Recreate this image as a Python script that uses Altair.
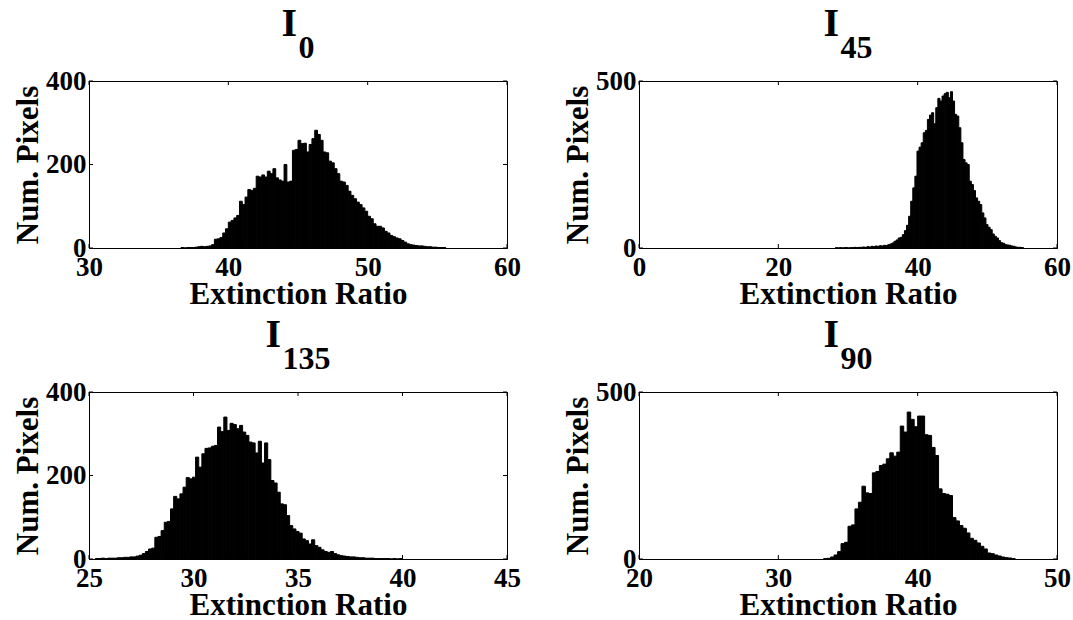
import altair as alt
import pandas as pd

# ---------------- data ----------------
sub_labels = ["0", "45", "135", "90"]
x_domains = [[30, 60], [0, 60], [25, 45], [20, 50]]
x_ticks = [[30, 40, 50, 60], [0, 20, 40, 60], [25, 30, 35, 40, 45], [20, 30, 40, 50]]
y_domains = [[0, 400], [0, 500], [0, 400], [0, 500]]
y_ticks = [[0, 200, 400], [0, 500], [0, 200, 400], [0, 500]]
bin_starts = [36.6, 28.2, 25.3, 33.25]
bin_widths = [0.2, 0.3, 0.15, 0.25]

counts_i0 = [1, 0, 1, 1, 1, 2, 3, 4, 3, 4, 5, 8, 21, 22, 25, 36, 46, 62, 66, 72,
             78, 112, 104, 122, 140, 138, 143, 172, 170, 175, 170, 184, 178, 190, 168, 163, 160, 200, 158, 160,
             234, 236, 258, 250, 251, 230, 248, 262, 282, 272, 258, 230, 228, 208, 204, 190, 178, 160, 158, 150,
             136, 126, 118, 110, 104, 96, 88, 76, 70, 58, 52, 52, 48, 40, 36, 30, 27, 24, 22, 18,
             14, 10, 8, 7, 6, 5, 5, 4, 3, 3, 2, 2, 1, 1, 1]

counts_i45 = [1, 0, 1, 0, 1, 1, 0, 1, 1, 2, 1, 2, 2, 3, 2, 4, 3, 5, 4, 6,
              5, 7, 6, 8, 7, 10, 12, 15, 20, 24, 30, 32, 40, 52, 68, 95, 140, 180, 215, 290,
              302, 315, 345, 352, 385, 398, 405, 372, 420, 448, 440, 455, 462, 466, 450, 468, 440, 400, 395, 360,
              315, 265, 255, 250, 200, 190, 172, 150, 140, 130, 105, 90, 70, 62, 55, 42, 35, 30, 22, 16,
              14, 10, 9, 8, 6, 5, 3, 2, 2, 1]

counts_i135 = [1, 1, 2, 1, 2, 2, 2, 3, 3, 4, 4, 5, 5, 7, 9, 13, 18, 24, 26, 52,
               54, 68, 88, 90, 120, 150, 144, 156, 172, 195, 192, 196, 244, 220, 252, 265, 266, 270, 272, 316,
               305, 340, 308, 325, 322, 312, 320, 304, 296, 280, 278, 254, 282, 230, 278, 238, 188, 182, 160, 132,
               130, 104, 80, 72, 66, 62, 48, 44, 36, 46, 32, 28, 22, 18, 16, 18, 13, 10, 8, 7,
               6, 5, 5, 4, 3, 3, 2, 2, 2, 1, 1, 1, 1, 1, 0, 1, 0, 1]

counts_i90 = [1, 2, 6, 12, 22, 46, 50, 98, 102, 150, 170, 218, 198, 196, 258, 262, 280, 284, 300, 318,
              308, 320, 398, 380, 440, 418, 396, 428, 428, 372, 370, 334, 310, 210, 196, 194, 190, 124, 114, 100,
              92, 78, 62, 56, 48, 38, 30, 18, 16, 12, 9, 6, 4, 3, 1]

all_counts = [counts_i0, counts_i45, counts_i135, counts_i90]

# ---------------- styling ----------------
W, H = 418, 167
FONT = "Liberation Serif"


def panel(idx):
    counts = all_counts[idx]
    start, width = bin_starts[idx], bin_widths[idx]
    lo = [start + i * width for i in range(len(counts))]
    df = pd.DataFrame({"lo": lo, "hi": [v + width for v in lo], "n": counts, "z": [0] * len(counts)})
    xs = alt.Scale(domain=x_domains[idx], nice=False, zero=False)
    ys = alt.Scale(domain=y_domains[idx], nice=False)

    x_axis = alt.Axis(
        values=x_ticks[idx], title="Extinction Ratio", grid=False, ticks=False,
        domainColor="black", domainWidth=1,
        labelFont=FONT, labelFontSize=27, labelFontWeight="bold", labelColor="black",
        labelPadding=6, labelFlush=False, labelOverlap=False, format="d",
        titleFont=FONT, titleFontSize=31, titleFontWeight="bold", titleColor="black",
        titleX=W / 2, titleY=55, titleBaseline="alphabetic", titleAlign="center",
    )
    y_axis = alt.Axis(
        values=y_ticks[idx], title="Num. Pixels", grid=False, ticks=False,
        domainColor="black", domainWidth=1,
        labelFont=FONT, labelFontSize=27, labelFontWeight="bold", labelColor="black",
        labelPadding=3, labelFlush=False, labelOverlap=False, format="d",
        titleFont=FONT, titleFontSize=31, titleFontWeight="bold", titleColor="black",
        titleX=-52, titleY=H / 2, titleBaseline="alphabetic", titleAlign="center", titleAngle=270,
    )

    bars = alt.Chart(df).mark_rect(color="black", stroke="black", strokeWidth=1).encode(
        x=alt.X("lo:Q", scale=xs, axis=x_axis),
        x2="hi:Q",
        y=alt.Y("n:Q", scale=ys, axis=y_axis),
        y2="z:Q",
    )

    xt = pd.DataFrame({"lo": x_ticks[idx]})
    yt = pd.DataFrame({"n": y_ticks[idx]})
    tick_x_bot = alt.Chart(xt).mark_rule(color="black", strokeWidth=1).encode(
        x=alt.X("lo:Q", scale=xs), y=alt.value(H), y2=alt.value(H - 4))
    tick_x_top = alt.Chart(xt).mark_rule(color="black", strokeWidth=1).encode(
        x=alt.X("lo:Q", scale=xs), y=alt.value(0), y2=alt.value(4))
    tick_y_left = alt.Chart(yt).mark_rule(color="black", strokeWidth=1).encode(
        y=alt.Y("n:Q", scale=ys), x=alt.value(0), x2=alt.value(4))
    tick_y_right = alt.Chart(yt).mark_rule(color="black", strokeWidth=1).encode(
        y=alt.Y("n:Q", scale=ys), x=alt.value(W), x2=alt.value(W - 4))

    sub = sub_labels[idx]
    i_w = 0.389 * 40
    sub_w = 0.5 * 32 * len(sub)
    gap = 1.5
    left = W / 2 - (i_w + gap + sub_w) / 2
    t_main = alt.Chart(pd.DataFrame({"t": ["I"]})).mark_text(
        font=FONT, fontSize=40, fontWeight="bold", color="black",
        align="left", baseline="alphabetic").encode(
        text="t:N", x=alt.value(left), y=alt.value(-45))
    t_sub = alt.Chart(pd.DataFrame({"t": [sub]})).mark_text(
        font=FONT, fontSize=32, fontWeight="bold", color="black",
        align="left", baseline="alphabetic").encode(
        text="t:N", x=alt.value(left + i_w + gap), y=alt.value(-23))

    return alt.layer(bars, tick_x_bot, tick_x_top, tick_y_left, tick_y_right, t_main, t_sub).properties(
        width=W, height=H)


chart = alt.concat(
    panel(0), panel(1), panel(2), panel(3),
    columns=2,
    spacing=alt.RowColnumber(row=144, column=132),
    bounds="flush",
).properties(
    padding={"left": 89, "top": 81, "right": 984, "bottom": 539},
    autosize=alt.AutoSizeParams(type="none"),
).configure_view(stroke="black", strokeWidth=1)

chart.save("out.html", embed_options={"renderer": "svg", "actions": False})
